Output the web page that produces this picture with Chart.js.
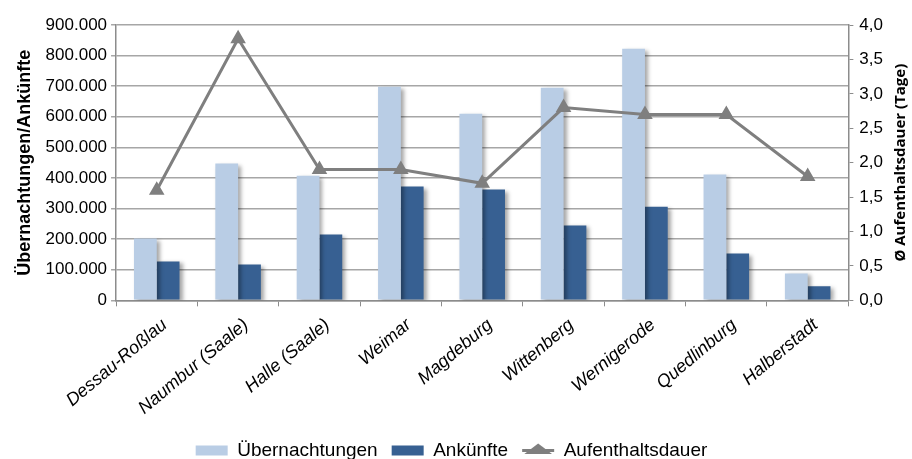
<!DOCTYPE html>
<html>
<head>
<meta charset="utf-8">
<script src="https://cdn.jsdelivr.net/npm/chart.js@4.4.0/dist/chart.umd.min.js"></script>
<style>
  html, body { margin: 0; padding: 0; background: #fff; }
  #wrap { width: 912px; height: 459px; }
</style>
</head>
<body>
<div id="wrap"><canvas id="tourismChart"></canvas></div>
<script>
var staedte = ["Dessau-Roßlau", "Naumbur (Saale)", "Halle (Saale)", "Weimar", "Magdeburg",
               "Wittenberg", "Wernigerode", "Quedlinburg", "Halberstadt"];
var uebernachtungen = [202000, 447000, 407000, 698000, 610000, 695000, 822000, 411000, 88000];
var ankuenfte = [127000, 117000, 215000, 372000, 362000, 245000, 306000, 153000, 46000];
var aufenthaltsdauer = [1.6, 3.8, 1.9, 1.9, 1.7, 2.8, 2.7, 2.7, 1.8];

Chart.defaults.font.family = "'Liberation Sans', Arial, sans-serif";
Chart.defaults.color = '#000';

// shadow behind the bars, like the office chart
var barShadow = {
    id: 'barShadow',
    beforeDatasetDraw: function (chart, args) {
        if (args.meta.type !== 'bar') return;
        var ctx = chart.ctx;
        ctx.save();
        ctx.shadowColor = 'rgba(0,0,0,0.35)';
        ctx.shadowBlur = 4;
        ctx.shadowOffsetX = 3;
        ctx.shadowOffsetY = 2;
    },
    afterDatasetDraw: function (chart, args) {
        if (args.meta.type !== 'bar') return;
        chart.ctx.restore();
    }
};

// right axis title reads bottom to top, and line through the legend triangle
var extras = {
    id: 'extras',
    afterDraw: function (chart) {
        var ctx = chart.ctx;
        var area = chart.chartArea;
        ctx.save();
        ctx.translate(chart.width - 11, (area.top + area.bottom) / 2);
        ctx.rotate(-Math.PI / 2);
        ctx.font = "bold 15px 'Open Sans', 'Liberation Sans', sans-serif";
        ctx.fillStyle = '#000';
        ctx.textAlign = 'center';
        ctx.textBaseline = 'middle';
        ctx.fillText('Ø Aufenthaltsdauer (Tage)', 0, 0);
        ctx.restore();

        var legend = chart.legend;
        legend.legendItems.forEach(function (item, i) {
            if (item.pointStyle !== 'triangle') return;
            var box = legend.legendHitBoxes[i];
            var w = legend.options.labels.pointStyleWidth;
            var y = box.top + box.height / 2;
            ctx.save();
            ctx.strokeStyle = item.strokeStyle;
            ctx.lineWidth = 3;
            ctx.beginPath();
            ctx.moveTo(box.left, y);
            ctx.lineTo(box.left + w, y);
            ctx.stroke();
            ctx.restore();
        });
    }
};

var ctx = document.getElementById('tourismChart').getContext('2d');

var chart = new Chart(ctx, {
    type: 'bar',
    data: {
        labels: staedte,
        datasets: [{
            label: 'Übernachtungen',
            data: uebernachtungen,
            backgroundColor: '#B9CDE5',
            yAxisID: 'y',
            order: 2
        }, {
            label: 'Ankünfte',
            data: ankuenfte,
            backgroundColor: '#376092',
            yAxisID: 'y',
            order: 2
        }, {
            type: 'line',
            label: 'Aufenthaltsdauer',
            data: aufenthaltsdauer,
            borderColor: '#7F7F7F',
            backgroundColor: '#7F7F7F',
            borderWidth: 3,
            pointStyle: 'triangle',
            pointRadius: 6,
            pointBackgroundColor: '#7F7F7F',
            pointBorderColor: '#7F7F7F',
            yAxisID: 'y1',
            order: 1
        }]
    },
    options: {
        responsive: true,
        maintainAspectRatio: false,
        animation: false,
        layout: { padding: { left: 14, right: 23, top: 25, bottom: -11 } },
        datasets: {
            bar: { categoryPercentage: 0.56, barPercentage: 1.0 }
        },
        plugins: {
            tooltip: { enabled: false },
            legend: {
                position: 'bottom',
                labels: {
                    font: { size: 19 },
                    usePointStyle: true,
                    pointStyleWidth: 32,
                    boxHeight: 10,
                    padding: 14,
                    generateLabels: function (chart) {
                        return chart.data.datasets.map(function (ds, i) {
                            var isLine = ds.type === 'line';
                            return {
                                text: ds.label,
                                datasetIndex: i,
                                fillStyle: isLine ? ds.borderColor : ds.backgroundColor,
                                strokeStyle: isLine ? ds.borderColor : ds.backgroundColor,
                                lineWidth: 0,
                                pointStyle: isLine ? 'triangle' : 'rect',
                                hidden: false
                            };
                        });
                    }
                }
            }
        },
        scales: {
            x: {
                grid: {
                    offset: true,
                    drawOnChartArea: false,
                    drawTicks: true,
                    tickLength: 6,
                    color: '#8C8C8C'
                },
                border: { color: '#8C8C8C', width: 1.5 },
                ticks: {
                    minRotation: 40,
                    maxRotation: 40,
                    labelOffset: 8,
                    font: { size: 18, style: 'italic' },
                    padding: 8
                }
            },
            y: {
                position: 'left',
                min: 0,
                max: 900000,
                ticks: {
                    stepSize: 100000,
                    font: { size: 17 },
                    padding: 4,
                    callback: function (v) { return v.toLocaleString('de-DE'); }
                },
                grid: { color: '#A6A6A6', lineWidth: 1.5, tickLength: 5 },
                border: { color: '#8C8C8C', width: 1.5 },
                title: {
                    display: true,
                    text: 'Übernachtungen/Ankünfte',
                    font: { size: 18, weight: 'bold' },
                    padding: { top: 0, bottom: 6 }
                }
            },
            y1: {
                position: 'right',
                min: 0,
                max: 4,
                ticks: {
                    stepSize: 0.5,
                    font: { size: 17 },
                    padding: 6,
                    callback: function (v) { return v.toFixed(1).replace('.', ','); }
                },
                grid: { drawOnChartArea: false, color: '#8C8C8C', tickLength: 5 },
                border: { color: '#8C8C8C', width: 1.5 }
            }
        }
    },
    plugins: [barShadow, extras]
});
</script>
</body>
</html>
